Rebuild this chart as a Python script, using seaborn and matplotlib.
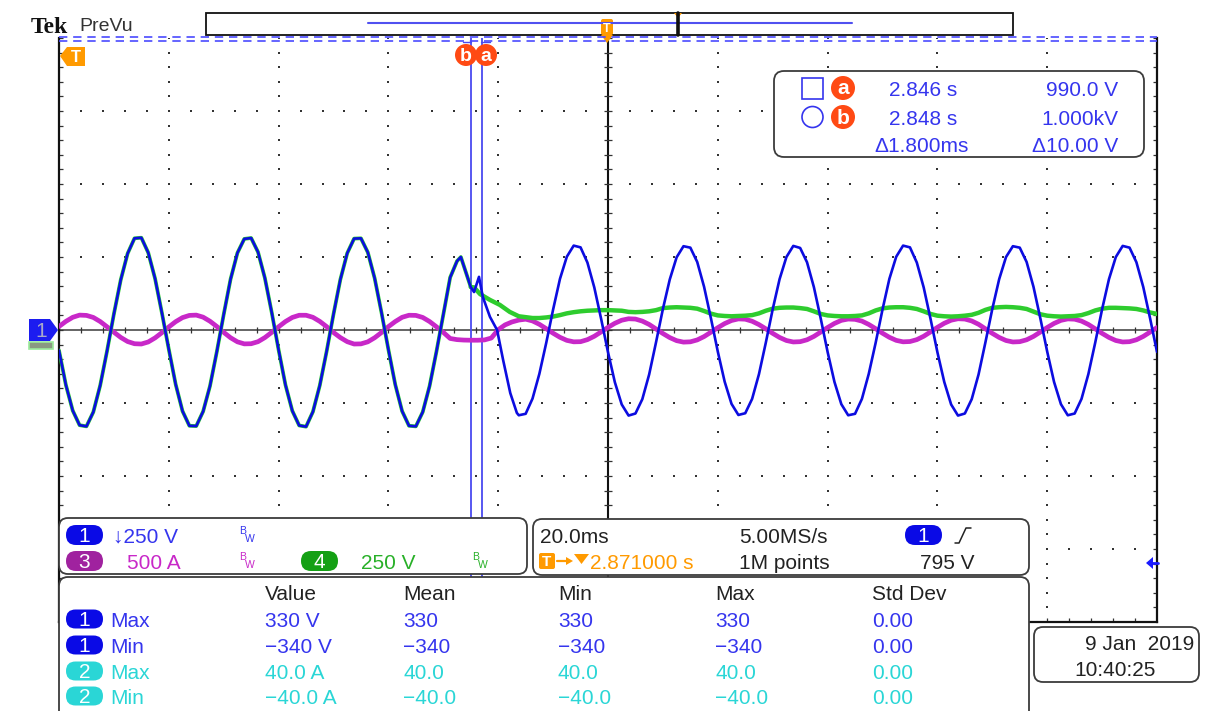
import numpy as np
import pandas as pd
import matplotlib
matplotlib.use('Agg')
import matplotlib.pyplot as plt
from matplotlib.patches import FancyBboxPatch, Rectangle, Polygon, Circle
import seaborn as sns

# -------------------------
# Scope settings
# -------------------------
V_DIV_CH1 = 250   # V/div
V_DIV_CH4 = 250   # V/div
A_DIV_CH3 = 500   # A/div

# record sampled every 1.25 ms, trigger at t = 0 (20 ms/div, 10 div)
t_grid = np.arange(-100, 100.001, 1.25)

# -------------------------
# CH1 (V): before the event (t = -100 ... -27.5 ms), event, after (-16.25 ... 100 ms)
# -------------------------
ch1_pre = [-70, -188, -276, -326, -330, -281, -190, -72, 55, 172, 262, 314, 316, 265, 176, 58,
           -66, -186, -278, -328, -329, -279, -192, -74, 53, 174, 264, 312, 315, 267, 178, 60,
           -68, -188, -277, -327, -331, -280, -190, -73, 54, 173, 263, 313, 314, 266, 177, 59,
           -67, -187, -278, -328, -330, -281, -192, -74, 52, 180, 236]
ch1_evt_t = [-26.8, -25.0, -24.4, -23.5, -22.8, -21.5, -20.2, -19.1, -17.8, -16.6]
ch1_evt_v = [250, 147, 130, 182, 113, 45, 0, -103, -216, -284]
ch1_post = [-292, -287, -235, -150, -44, 70, 175, 251, 289, 283, 231, 146, 38, -76, -179, -255,
            -293, -286, -237, -152, -42, 72, 173, 249, 287, 282, 233, 148, 40, -74, -177, -253,
            -291, -285, -236, -151, -43, 71, 174, 250, 288, 281, 232, 147, 39, -75, -178, -254,
            -292, -287, -236, -150, -44, 70, 175, 251, 289, 283, 231, 146, 38, -76, -178, -255,
            -293, -286, -237, -152, -42, 72, 174, 250, 287, 282, 233, 148, 40, -74, -178, -254,
            -292, -286, -236, -151, -43, 71, 174, 250, 288, 282, 232, 147, 39, -75]

# -------------------------
# CH4 (V): same as CH1 up to the event, then drops to a small DC level
# -------------------------
ch4_evt_t = [-26.8, -25.0, -24.4, -23.3, -21.5, -19.7, -17.9]
ch4_evt_v = [250, 147, 146, 123, 103, 86, 62]
ch4_post = [47, 44, 41, 41, 43, 46, 51, 57, 61, 64, 66, 67, 68, 68, 67, 66, 62, 61, 62, 64,
            68, 75, 77, 78, 77, 76, 73, 65, 56, 50, 48, 47,
            48, 49, 51, 57, 66, 73, 76, 77, 77, 75, 72, 64, 55, 50, 48, 47,
            47, 48, 50, 57, 67, 74, 77, 78, 78, 76, 72, 64, 55, 49, 47, 46,
            47, 49, 52, 59, 69, 76, 78, 79, 78, 76, 72, 63, 54, 49, 47, 46,
            47, 48, 51, 58, 67, 73, 76, 76, 75, 74, 72, 67, 60, 55]

# -------------------------
# CH3 (A): whole record on the sampling grid
# -------------------------
ch3_pre = [24, 59, 87, 102, 100, 86, 58, 22, -15, -51, -79, -94, -96, -82, -54, -18,
           21, 57, 85, 100, 102, 88, 60, 24, -16, -53, -81, -95, -94, -80, -52, -16,
           22, 58, 86, 101, 101, 87, 59, 23, -17, -52, -80, -96, -95, -81, -53, -17,
           23, 58, 87, 101, 100, 86, 58, 22, -16]
ch3_evt = [-58, -66, -69, -70, -70, -68, -55, 2, 35, 55]
ch3_post = [68, 74, 62, 39, 9, -22, -50, -71, -81, -80, -66, -43, -13, 18, 46, 67,
            77, 75, 61, 38, 7, -24, -52, -73, -83, -81, -68, -45, -15, 16, 44, 65,
            76, 74, 60, 37, 8, -23, -51, -72, -82, -80, -67, -44, -14, 17, 45, 66,
            75, 73, 61, 38, 9, -22, -50, -71, -81, -79, -66, -43, -13, 18, 46, 67,
            77, 75, 62, 39, 8, -23, -51, -72, -82, -80, -67, -44, -14, 17, 45, 66,
            76, 74, 61, 38, 8, -23, -51, -72, -82, -80, -67, -44, -14, 17]

# cursors (ms from trigger) and readouts
cursor_a, cursor_b = -25.0, -23.0
cursor_rows = [('2.846 s', '990.0 V'), ('2.848 s', '1.000kV'), ('\u03941.800ms', '\u039410.00 V')]

meas_header = ['Value', 'Mean', 'Min', 'Max', 'Std Dev']
meas_rows = [
    ('1', 'Max', ['330 V', '330', '330', '330', '0.00']),
    ('1', 'Min', ['\u2212340 V', '\u2212340', '\u2212340', '\u2212340', '0.00']),
    ('2', 'Max', ['40.0 A', '40.0', '40.0', '40.0', '0.00']),
    ('2', 'Min', ['\u221240.0 A', '\u221240.0', '\u221240.0', '\u221240.0', '0.00']),
]

# -------------------------
# Colours
# -------------------------
C1 = '#0c0ce0'
C1_TXT = '#3535ee'
C3 = '#c828c8'
C3_PILL = '#a0229f'
C4 = '#2ecc2e'
C4_PILL = '#14a014'
C2 = '#2ad6d6'
ORANGE = '#ff9a00'
CUR_RED = '#ff4a14'
CUR = '#4a4af0'
GRID = '#333333'
INK = '#222222'


def trace(t_list, v_list, per_div, name):
    return pd.DataFrame({'t': np.asarray(t_list, float),
                         'div': np.asarray(v_list, float) / per_div,
                         'canal': name})


t_pre = list(t_grid[:59])
t_post = list(t_grid[67:])
df1 = trace(t_pre + ch1_evt_t + t_post, ch1_pre + ch1_evt_v + ch1_post, V_DIV_CH1, 'CH1')
df4 = trace(t_pre + ch4_evt_t + t_post, ch1_pre + ch4_evt_v + ch4_post, V_DIV_CH4, 'CH4')
df3 = trace(list(t_grid), ch3_pre + ch3_evt + ch3_post, A_DIV_CH3, 'CH3')

# -------------------------
# Figure
# -------------------------
sns.set_theme(style='white')
plt.rcParams['font.family'] = ['Liberation Sans', 'DejaVu Sans']

W, H = 1210, 711
fig = plt.figure(figsize=(W / 100, H / 100), dpi=100)
fig.patch.set_facecolor('white')

GL, GR, GT, GB = 59, 1157, 38, 622
ax = fig.add_axes([GL / W, 1 - GB / H, (GR - GL) / W, (GB - GT) / H])
ax.set_xlim(-100, 100)
ax.set_ylim(-4, 4)
ax.set_xticks([])
ax.set_yticks([])
ax.spines['top'].set_visible(False)
for s in ['left', 'right', 'bottom']:
    ax.spines[s].set_color('#111111')
    ax.spines[s].set_linewidth(1.6)

# graticule: dotted major lines, centre cross with ticks
sub_t = np.arange(-100, 100.001, 4)
sub_y = np.arange(-4, 4.001, 0.2)
for xm in range(-80, 81, 20):
    if xm == 0:
        continue
    ax.plot([xm] * len(sub_y), sub_y, ls='none', marker='s', ms=1.5, mew=0, color=GRID, zorder=1)
for ym in range(-3, 4):
    if ym == 0:
        continue
    ax.plot(sub_t, [ym] * len(sub_t), ls='none', marker='s', ms=1.5, mew=0, color=GRID, zorder=1)
ax.axhline(0, color='#3a3a3a', lw=1.1, zorder=2)
ax.axvline(0, color='#111111', lw=1.5, zorder=2)
ax.vlines(sub_t, -0.045, 0.045, color=GRID, lw=0.9, zorder=2)
ax.hlines(sub_y, -0.8, 0.8, color=GRID, lw=0.9, zorder=2)
ax.hlines(sub_y, -100, -99.3, color=GRID, lw=0.9, zorder=2)
ax.hlines(sub_y, 99.3, 100, color=GRID, lw=0.9, zorder=2)
ax.vlines(sub_t, -4, -3.95, color=GRID, lw=0.9, zorder=2)

# cursors
for tc in (cursor_a, cursor_b):
    ax.axvline(tc, color=CUR, lw=1.3, zorder=3)

# waveforms (ch4 drawn thinner where it sits under ch1)
df4_under = df4[df4['t'] <= -25.0]
df4_free = df4[df4['t'] >= -25.0]
sns.lineplot(data=df3, x='t', y='div', ax=ax, color=C3, lw=3.4, estimator=None,
             sort=False, legend=False, zorder=4)
sns.lineplot(data=df4_under, x='t', y='div', ax=ax, color=C4, lw=2.7, estimator=None,
             sort=False, legend=False, zorder=5)
sns.lineplot(data=df4_free, x='t', y='div', ax=ax, color=C4, lw=3.2, estimator=None,
             sort=False, legend=False, zorder=5)
sns.lineplot(data=df1, x='t', y='div', ax=ax, color=C1, lw=1.9, estimator=None,
             sort=False, legend=False, zorder=6)
ax.set_xlabel('')
ax.set_ylabel('')

# -------------------------
# Overlay in pixel coordinates (panels, markers, readouts)
# -------------------------
ov = fig.add_axes([0, 0, 1, 1], zorder=10)
ov.set_xlim(0, W)
ov.set_ylim(H, 0)
ov.axis('off')
ov.patch.set_visible(False)


def txt(x, yc, s, color=INK, size=15, ha='left', **kw):
    # yc = visual centre of the capitals
    ov.text(x, yc + 7.6 * size / 15, s, color=color, fontsize=size, ha=ha, va='baseline', **kw)


def panel(x, y, w, h, r=9):
    ov.add_patch(FancyBboxPatch((x, y), w, h, boxstyle=f'round,pad=0,rounding_size={r}',
                                fc='white', ec='#3c3c3c', lw=1.3, zorder=1))


def pill(x, yc, label, color, w=37, h=20):
    ov.add_patch(FancyBboxPatch((x, yc - h / 2), w, h, boxstyle=f'round,pad=0,rounding_size={h / 2}',
                                fc=color, ec='none', zorder=2))
    ov.text(x + w / 2, yc + 7.3, label, color='white', fontsize=15, ha='center', va='baseline', zorder=3)


def bw(x, yc, color):
    ov.text(x, yc - 1, 'B', color=color, fontsize=7.5, ha='left', va='baseline')
    ov.text(x + 5.5, yc + 7, 'W', color=color, fontsize=7.5, ha='left', va='baseline')


# header
ov.text(31, 33, 'Tek', family='Liberation Serif', weight='bold', fontsize=17, color='#111111', va='baseline')
ov.text(79, 31, 'PreVu', fontsize=14, color='#333333', va='baseline')

# record bar
ov.add_patch(Rectangle((206, 13), 807, 22, fc='white', ec='#111111', lw=1.3))
ov.plot([368, 852], [23, 23], color='#5050f0', lw=1.5)
ov.plot([678, 678], [13, 35], color='#111111', lw=2.6)
ov.add_patch(Polygon([(674, 13), (682, 13), (678, 18)], fc=ORANGE, ec='none'))
ov.add_patch(FancyBboxPatch((601, 19), 12, 16, boxstyle='round,pad=0,rounding_size=2', fc=ORANGE, ec='none'))
ov.text(607, 32, 'T', color='white', fontsize=9, ha='center', va='baseline', weight='bold')
ov.add_patch(Polygon([(601, 35), (613, 35), (607, 43)], fc=ORANGE, ec='none'))

# dashed top edge of the graticule
ov.plot([GL, GR], [37, 37], color='#4a4aff', lw=1.2, ls=(0, (5, 3.5)))
ov.plot([GL, GR], [40.5, 40.5], color='#4a4aff', lw=1.2, ls=(0, (5, 3.5)))

# trigger-position marker (left) and trigger level arrow (right)
ov.add_patch(Polygon([(60, 56), (67, 47), (85, 47), (85, 66), (67, 66)], fc=ORANGE, ec='none'))
ov.text(76, 62, 'T', color='white', fontsize=12, ha='center', va='baseline', weight='bold')
ov.add_patch(Polygon([(1146, 563), (1153, 557), (1153, 569)], fc='#1a1aff', ec='none'))
ov.plot([1152, 1158], [563, 563], color='#1a1aff', lw=2)

# channel-1 ground marker with ch4 marker under it
ov.add_patch(Polygon([(29, 342), (53, 342), (53, 349), (29, 349)], fc='#8a9a82', ec='#9bea9b', lw=1.2))
ov.add_patch(Polygon([(29, 319), (50, 319), (58, 330), (50, 341), (29, 341)], fc='#1c1cf0', ec='none'))
ov.text(41, 337, '1', color='#a9a9c9', fontsize=15, ha='center', va='baseline')

# cursor labels at the top
ov.plot([463, 471], [42, 42], color=CUR, lw=1)
ov.plot([481, 490], [42, 42], color=CUR, lw=1)
for xc, lab in ((466, 'b'), (486, 'a')):
    ov.add_patch(Circle((xc, 55), 11, fc=CUR_RED, ec='none'))
    ov.text(xc, 61, lab, color='white', fontsize=14, ha='center', va='baseline', weight='bold')

# cursor readout
panel(774, 71, 370, 86, r=10)
ov.add_patch(Rectangle((802, 78), 21, 21, fc='none', ec=C1_TXT, lw=1.2))
ov.add_patch(Circle((812.5, 117), 10.5, fc='none', ec=C1_TXT, lw=1.2))
for yc, lab in ((88, 'a'), (117, 'b')):
    ov.add_patch(Circle((843, yc), 12, fc=CUR_RED, ec='none'))
    ov.text(843, yc + 6.5, lab, color='white', fontsize=15, ha='center', va='baseline', weight='bold')
for (left, right), yc, xl in zip(cursor_rows, (88, 117, 144), (889, 889, 874)):
    txt(xl, yc, left, C1_TXT)
    txt(1118, yc, right, C1_TXT, ha='right')

# vertical settings panel
panel(59, 518, 468, 56)
pill(66, 535, '1', '#0a0ae6')
txt(113, 535, '\u2193250 V', C1_TXT)
bw(239, 535, C1_TXT)
pill(66, 561, '3', C3_PILL)
txt(127, 561, '500 A', C3)
bw(239, 561, C3)
pill(301, 561, '4', C4_PILL)
txt(361, 561, '250 V', '#28b028')
bw(472, 561, '#28b028')

# horizontal / trigger panel
panel(533, 519, 496, 56)
txt(540, 535, '20.0ms')
txt(739, 535, '5.00MS/s')
pill(905, 535, '1', '#0a0ae6')
ov.plot([955, 959, 966, 971], [543, 543, 528, 528], color=INK, lw=1.1)
ov.add_patch(FancyBboxPatch((539, 553), 16, 16, boxstyle='round,pad=0,rounding_size=2', fc=ORANGE, ec='none'))
ov.text(547, 566, 'T', color='white', fontsize=11, ha='center', va='baseline', weight='bold')
ov.plot([557, 570], [561, 561], color=ORANGE, lw=1.6)
ov.add_patch(Polygon([(566, 557), (573, 561), (566, 565)], fc=ORANGE, ec='none'))
ov.add_patch(Polygon([(574, 554), (589, 554), (581.5, 564)], fc=ORANGE, ec='none'))
txt(590, 561, '2.871000 s', ORANGE)
txt(739, 561, '1M points')
txt(974, 561, '795 V', ha='right')

# measurements panel
panel(59, 577, 970, 170)
col_x = [265, 403, 558, 715, 872]
for xh, h in zip(col_x, meas_header):
    txt(xh, 592, h)
for yc, (ch, kind, vals) in zip((619, 645, 671, 696), meas_rows):
    pc, tc = ('#0a0ae6', C1_TXT) if ch == '1' else (C2, C2)
    pill(66, yc, ch, pc, h=19)
    txt(110, yc, kind, tc)
    for xv, v in zip(col_x, vals):
        txt(xv, yc, v, tc)

# date box
panel(1034, 627, 165, 55)
txt(1194, 642, '9 Jan  2019', ha='right')
txt(1074, 668, '10:40:25')

fig.savefig('out.png', dpi=100, facecolor='white')
plt.close(fig)
